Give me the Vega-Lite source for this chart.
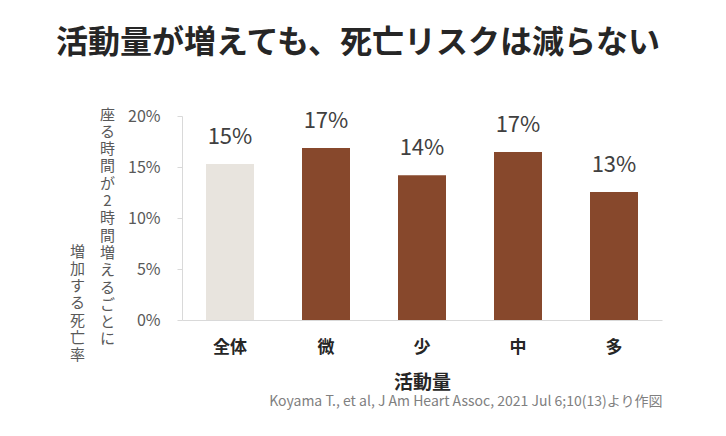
{
  "$schema": "https://vega.github.io/schema/vega-lite/v6.json",
  "width": 480,
  "height": 204,
  "autosize": {"type": "none"},
  "padding": {"left": 182, "top": 116, "right": 64, "bottom": 116},
  "background": "white",
  "config": {"view": {"stroke": null}, "font": "Noto Sans CJK JP"},
  "title": {
    "text": "活動量が増えても、死亡リスクは減らない",
    "font": "Noto Sans CJK JP",
    "fontSize": 32,
    "fontWeight": "bold",
    "color": "#262626",
    "anchor": "middle",
    "frame": "group",
    "dx": -64,
    "offset": 47
  },
  "data": {
    "values": [
      {"cat": "全体", "value": 0.153, "label": "15%"},
      {"cat": "微", "value": 0.1686, "label": "17%"},
      {"cat": "少", "value": 0.142, "label": "14%"},
      {"cat": "中", "value": 0.1647, "label": "17%"},
      {"cat": "多", "value": 0.1255, "label": "13%"}
    ]
  },
  "layer": [
    {
      "mark": {"type": "bar"},
      "encoding": {
        "x": {
          "field": "cat", "type": "nominal", "sort": null,
          "scale": {"paddingInner": 0.5, "paddingOuter": 0.25},
          "axis": {
            "labelAngle": 0,
            "labelFont": "Noto Sans CJK JP",
            "labelFontSize": 17,
            "labelFontWeight": "bold",
            "labelColor": "#262626",
            "labelPadding": 19,
            "ticks": false,
            "domainColor": "#d9d9d9",
            "title": "活動量",
            "titleFont": "Noto Sans CJK JP",
            "titleFontSize": 19,
            "titleFontWeight": "bold",
            "titleColor": "#262626",
            "titleBaseline": "top",
            "titleY": 53
          }
        },
        "y": {
          "field": "value", "type": "quantitative",
          "scale": {"domain": [0, 0.2]},
          "axis": {
            "values": [0, 0.05, 0.1, 0.15, 0.2],
            "format": ".0%",
            "grid": false,
            "labelFont": "Noto Sans CJK JP",
            "labelFontSize": 16,
            "labelColor": "#595959",
            "labelPadding": 17,
            "tickSize": 5,
            "tickColor": "#d9d9d9",
            "domainColor": "#d9d9d9",
            "title": ["座","る","時","間","が","2","時","間","増","え","る","ご","と","に"],
            "titleAngle": 0,
            "titleFont": "Noto Sans CJK JP",
            "titleFontSize": 15,
            "titleFontWeight": "normal",
            "titleColor": "#595959",
            "titleLineHeight": 17.3,
            "titleAlign": "center",
            "titleBaseline": "top",
            "titleX": -75,
            "titleY": -9
          }
        },
        "color": {
          "field": "cat", "type": "nominal", "legend": null,
          "scale": {"domain": ["全体", "微", "少", "中", "多"], "range": ["#e8e4de", "#87482c", "#87482c", "#87482c", "#87482c"]}
        }
      }
    },
    {
      "mark": {"type": "text", "baseline": "middle", "dy": -27, "fontSize": 22, "color": "#404040", "font": "Noto Sans CJK JP"},
      "encoding": {
        "x": {
          "field": "cat", "type": "nominal", "sort": null,
          "axis": {
            "orient": "top",
            "labels": false, "ticks": false, "domain": false,
            "title": "Koyama T., et al, J Am Heart Assoc, 2021 Jul 6;10(13)より作図",
            "titleFont": "Noto Sans CJK JP",
            "titleFontSize": 14,
            "titleFontWeight": "normal",
            "titleColor": "#808080",
            "titleAlign": "right",
            "titleBaseline": "middle",
            "titleX": 480,
            "titleY": 285
          }
        },
        "y": {
          "field": "value", "type": "quantitative",
          "axis": {
            "orient": "right",
            "labels": false, "ticks": false, "domain": false, "grid": false,
            "title": ["増","加","す","る","死","亡","率"],
            "titleAngle": 0,
            "titleFont": "Noto Sans CJK JP",
            "titleFontSize": 15,
            "titleFontWeight": "normal",
            "titleColor": "#595959",
            "titleLineHeight": 17.3,
            "titleAlign": "center",
            "titleBaseline": "top",
            "titleX": -585,
            "titleY": 128
          }
        },
        "text": {"field": "label"}
      }
    }
  ],
  "resolve": {"axis": {"x": "independent", "y": "independent"}}
}
